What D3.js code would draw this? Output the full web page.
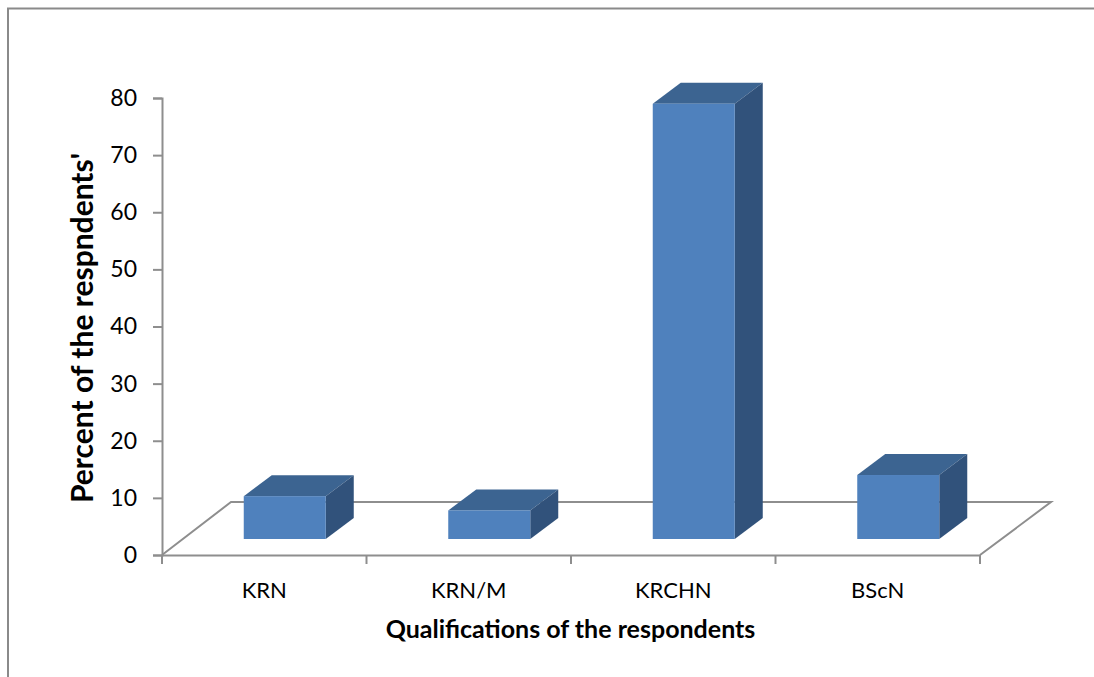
<!DOCTYPE html>
<html>
<head>
<meta charset="utf-8">
<script src="https://cdnjs.cloudflare.com/ajax/libs/d3/7.8.5/d3.min.js"></script>
<style>
html, body { margin: 0; padding: 0; background: #fff; }
svg { display: block; }
text { font-family: Lato, "Open Sans", sans-serif; fill: #000; }
</style>
</head>
<body>
<svg id="chart" width="1094" height="677"></svg>
<script>
// Chart data
const categories = ["KRN", "KRN/M", "KRCHN", "BScN"];
const percents = [7.5, 5, 76.2, 11.2];
const yTicks = [0, 10, 20, 30, 40, 50, 60, 70, 80];
const yTitle = "Percent of the respndents'";
const xTitle = "Qualifications of the respondents";

const width = 1094, height = 677;
const axisColor = "#8e8e8e";
const faceFront = "#4f81bd", faceTop = "#3c6491", faceSide = "#31527b";

// Plot frame: x runs along the front floor edge, y up the left wall
const x = d3.scaleBand().domain(categories).range([162, 980]);
const y = d3.scaleLinear().domain([0, 80]).range([555, 98]);

// Oblique projection offsets for the chart floor and for each column
const floorDx = 69, floorDy = -53;
const barDx = 28, barDy = -21;
const barFrontBase = 539;     // front-bottom edge of every column
const barWidth = 82;
const barShift = 20.5;        // columns sit partway back on the floor

const svg = d3.select("#chart");

// Outer chart border (open on the right and bottom)
svg.append("path")
  .attr("d", `M8,${height} L8,8.5 L${width},8.5`)
  .attr("fill", "none").attr("stroke", "#8a8a8a").attr("stroke-width", 2);

// Floor parallelogram, back and side edges
const floorPath = d3.path();
floorPath.moveTo(x.range()[0], y(0));
floorPath.lineTo(x.range()[0] + floorDx, y(0) + floorDy);
floorPath.lineTo(x.range()[1] + floorDx + 2, y(0) + floorDy);
floorPath.lineTo(x.range()[1], y(0));
svg.append("path").attr("d", floorPath.toString())
  .attr("fill", "none").attr("stroke", axisColor).attr("stroke-width", 2);

// Value axis
const yAxis = d3.axisLeft(y).tickValues(yTicks).tickSize(9).tickPadding(16);
const yG = svg.append("g").attr("transform", "translate(162,0)").call(yAxis);
yG.selectAll("path.domain").attr("stroke", axisColor).attr("stroke-width", 2);
yG.selectAll("line").attr("stroke", axisColor).attr("stroke-width", 2);
yG.selectAll("text").style("font-size", "23px").style("font-family", "Lato, sans-serif");

// Category axis
const xAxis = d3.axisBottom(x).tickValues([]).tickSize(0);
const xG = svg.append("g").attr("transform", `translate(0,${y(0)})`).call(xAxis);
xG.selectAll("path.domain").attr("stroke", axisColor).attr("stroke-width", 2);
const boundaries = categories.map(c => x(c)).concat(x.range()[1]);
xG.selectAll("line.sep").data(boundaries).join("line").attr("class", "sep")
  .attr("x1", d => d).attr("x2", d => d).attr("y1", 0).attr("y2", 9)
  .attr("stroke", axisColor).attr("stroke-width", 2);
svg.selectAll("text.cat").data(categories).join("text").attr("class", "cat")
  .attr("x", d => x(d) + x.bandwidth() / 2)
  .attr("y", 598).attr("text-anchor", "middle")
  .style("font-size", "22px").text(d => d);

// Columns: front, top and side faces
const barHeight = v => y(0) - y(v);
const bars = svg.selectAll("g.bar").data(categories.map((c, i) => ({ c, v: percents[i] })))
  .join("g").attr("class", "bar");
const left = d => x(d.c) + x.bandwidth() / 2 + barShift - barWidth / 2;
const top_ = d => barFrontBase - barHeight(d.v);

bars.append("path").attr("fill", faceTop)
  .attr("d", d => {
    const p = d3.path(); const l = left(d), t = top_(d);
    p.moveTo(l, t); p.lineTo(l + barDx, t + barDy);
    p.lineTo(l + barWidth + barDx, t + barDy); p.lineTo(l + barWidth, t); p.closePath();
    return p.toString();
  });
bars.append("path").attr("fill", faceSide)
  .attr("d", d => {
    const p = d3.path(); const r = left(d) + barWidth, t = top_(d);
    p.moveTo(r, t); p.lineTo(r + barDx, t + barDy);
    p.lineTo(r + barDx, barFrontBase + barDy); p.lineTo(r, barFrontBase); p.closePath();
    return p.toString();
  });
bars.append("rect").attr("fill", faceFront)
  .attr("x", left).attr("y", top_)
  .attr("width", barWidth).attr("height", d => barHeight(d.v));

// Axis titles
svg.append("text").attr("x", 570.5).attr("y", 638).attr("text-anchor", "middle")
  .style("font-size", "25px").style("font-weight", 700).text(xTitle);
svg.append("text").attr("transform", "translate(93,328) rotate(-90)")
  .attr("text-anchor", "middle")
  .style("font-size", "30px").style("font-weight", 700).text(yTitle);
</script>
</body>
</html>
